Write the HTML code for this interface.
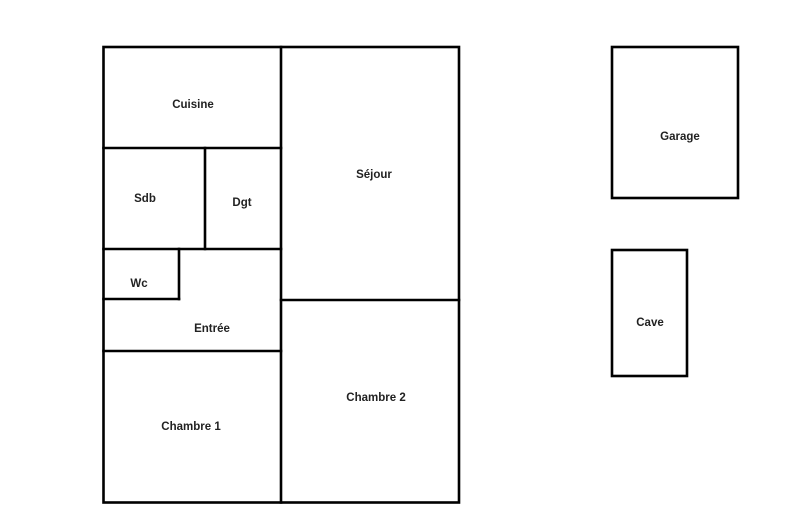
<!DOCTYPE html>
<html><head><meta charset="utf-8"><style>
html,body{margin:0;padding:0;background:#fff;}
svg text{font-family:"Liberation Sans",sans-serif;font-size:11.5px;font-weight:bold;fill:#222;text-anchor:middle;}
</style></head><body>
<svg width="800" height="524" viewBox="0 0 800 524" xmlns="http://www.w3.org/2000/svg">
<g stroke="#000" stroke-width="2.6" fill="none" stroke-linecap="square">
<rect x="103.5" y="47" width="355.5" height="455.5"/>
<line x1="281" y1="47" x2="281" y2="502.5"/>
<line x1="103.5" y1="148" x2="281" y2="148"/>
<line x1="205" y1="148" x2="205" y2="249"/>
<line x1="103.5" y1="249" x2="281" y2="249"/>
<line x1="179" y1="249" x2="179" y2="299"/>
<line x1="103.5" y1="299" x2="179" y2="299"/>
<line x1="281" y1="300" x2="459" y2="300"/>
<line x1="103.5" y1="351" x2="281" y2="351"/>
<rect x="612" y="47" width="126" height="151"/>
<rect x="612" y="250" width="75" height="126"/>
</g>
<text x="193" y="108">Cuisine</text>
<text x="374" y="178">Séjour</text>
<text x="145" y="202">Sdb</text>
<text x="242" y="206">Dgt</text>
<text x="139" y="287">Wc</text>
<text x="212" y="332">Entrée</text>
<text x="376" y="401">Chambre 2</text>
<text x="191" y="430">Chambre 1</text>
<text x="680" y="140">Garage</text>
<text x="650" y="326">Cave</text>
</svg>
</body></html>
